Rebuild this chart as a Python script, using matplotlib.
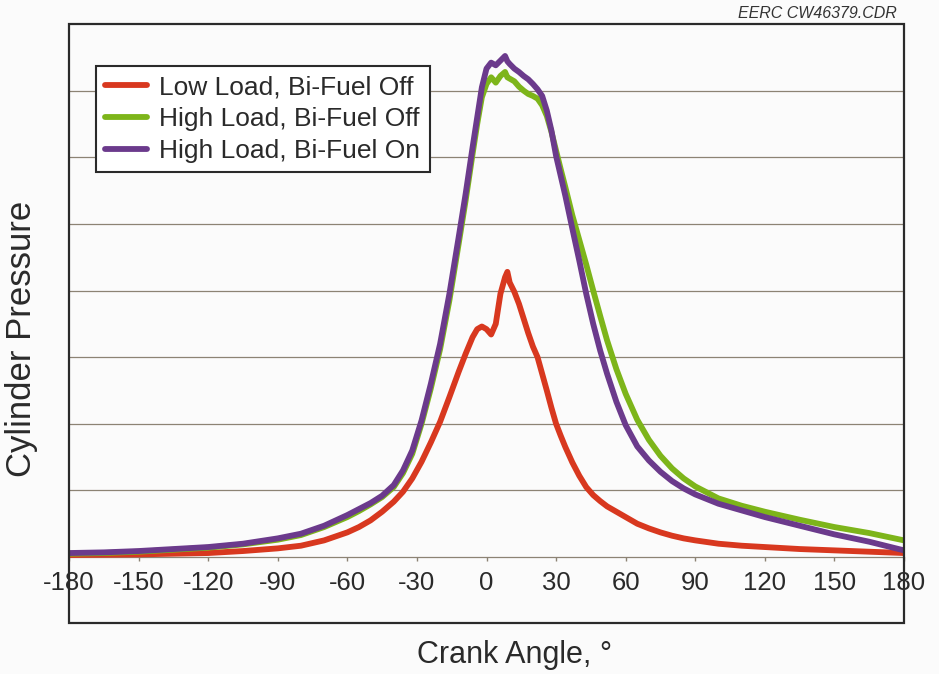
import numpy as np
import matplotlib
matplotlib.use("Agg")
import matplotlib.pyplot as plt
from matplotlib.patches import Rectangle

plt.rcParams['font.family'] = ['Liberation Sans', 'DejaVu Sans']

# crank angle, degrees
angle = [-180, -165, -150, -135, -120, -105, -90, -80, -70, -60, -55, -50, -45, -40,
         -36, -32, -28, -24, -20, -16, -12, -9, -6, -4, -2, 0, 2, 4, 6, 8, 9, 10, 12,
         14, 16, 18, 20, 22, 24, 26, 28, 30, 32, 34, 37, 40, 43, 46, 49, 52, 56, 60,
         65, 70, 75, 80, 85, 90, 100, 110, 120, 135, 150, 165, 180]

# cylinder pressure (grid units)
low_off = [0.03, 0.035, 0.04, 0.05, 0.06, 0.09, 0.13, 0.17, 0.25, 0.37, 0.45, 0.55, 0.68, 0.83,
           0.98, 1.18, 1.43, 1.72, 2.03, 2.4, 2.78, 3.05, 3.3, 3.42, 3.46, 3.42, 3.34, 3.5, 3.95,
           4.2, 4.28, 4.12, 3.98, 3.8, 3.58, 3.36, 3.16, 3.0, 2.75, 2.5, 2.24, 2.0, 1.82, 1.65,
           1.42, 1.22, 1.05, 0.93, 0.84, 0.76, 0.68, 0.6, 0.5, 0.43, 0.37, 0.32, 0.28, 0.25,
           0.2, 0.17, 0.15, 0.12, 0.1, 0.08, 0.06]

high_off = [0.05, 0.06, 0.08, 0.11, 0.14, 0.19, 0.26, 0.33, 0.45, 0.6, 0.69, 0.79, 0.9, 1.05,
            1.26, 1.55, 2.0, 2.53, 3.12, 3.85, 4.7, 5.35, 6.05, 6.5, 6.9, 7.1, 7.2, 7.12, 7.22,
            7.28, 7.2, 7.18, 7.14, 7.06, 7.0, 6.95, 6.92, 6.88, 6.78, 6.62, 6.38, 6.1, 5.82, 5.55,
            5.13, 4.76, 4.39, 4.0, 3.62, 3.25, 2.82, 2.45, 2.06, 1.76, 1.52, 1.33, 1.18, 1.06,
            0.88, 0.77, 0.68, 0.56, 0.45, 0.36, 0.25]

high_on = [0.06, 0.07, 0.09, 0.12, 0.15, 0.2, 0.28, 0.35, 0.47, 0.63, 0.72, 0.81, 0.92, 1.08,
           1.3, 1.6, 2.05, 2.6, 3.2, 3.95, 4.8, 5.45, 6.15, 6.6, 7.05, 7.33, 7.42, 7.38, 7.45,
           7.52, 7.44, 7.4, 7.33, 7.28, 7.22, 7.17, 7.1, 7.02, 6.92, 6.7, 6.4, 6.02, 5.72, 5.42,
           4.93, 4.45, 3.95, 3.5, 3.1, 2.75, 2.33, 1.98, 1.66, 1.45, 1.28, 1.14, 1.03, 0.94,
           0.8, 0.7, 0.6, 0.47, 0.34, 0.23, 0.1]

labels = ["Low Load, Bi-Fuel Off", "High Load, Bi-Fuel Off", "High Load, Bi-Fuel On"]
colors = ["#d8381f", "#7db51a", "#6b3a8c"]
xticks = np.arange(-180, 181, 30)

dark = "#2a2a2a"
gridc = "#8c8374"

fig = plt.figure(figsize=(9.39, 6.74), dpi=100, facecolor="#fbfbfb")
ax = fig.add_axes([69/939, 1 - 623/674, (904 - 69)/939, (623 - 24)/674])
ax.set_facecolor("#fbfbfb")

for s in ["left", "right", "top"]:
    ax.spines[s].set_visible(False)
ax.spines["bottom"].set_position(("data", 0))
ax.spines["bottom"].set_color(gridc)
ax.spines["bottom"].set_linewidth(0.9)

for y, c, lab in zip([low_off, high_off, high_on], colors, labels):
    ax.plot(angle, y, color=c, lw=4.2, label=lab, solid_capstyle="round",
            solid_joinstyle="round", zorder=3)

ax.set_xlim(-180, 180)
ax.set_ylim(-0.99, 8)

ax.set_xticks(xticks)
ax.set_xticklabels([str(t) for t in xticks])
ax.set_yticks(range(1, 8))
ax.set_yticklabels([])
ax.tick_params(axis="y", length=0)
ax.tick_params(axis="x", direction="out", length=3, width=1, color=gridc, pad=7,
               labelsize=18.5, labelcolor=dark)
ax.grid(axis="y", color=gridc, lw=0.9)
ax.grid(axis="x", visible=False)

# outer frame
ax.add_patch(Rectangle((0, 0), 1, 1, transform=ax.transAxes, fill=False,
                       ec=dark, lw=1.6, clip_on=False, zorder=5))

leg = ax.legend(loc="upper left", bbox_to_anchor=(0.0323, 0.93), borderaxespad=0,
                fontsize=19, frameon=True, fancybox=False, framealpha=1,
                edgecolor=dark, handlelength=1.6, handletextpad=0.45,
                labelspacing=0.3, borderpad=0.35)
leg.get_frame().set_linewidth(1.5)
for t in leg.get_texts():
    t.set_color(dark)

fig.text(22/939, 1 - 339/674, "Cylinder Pressure", rotation=90, ha="center",
         va="center", fontsize=25, color=dark)
fig.text(515/939, 1 - 655/674, "Crank Angle, \u00b0", ha="center", va="center",
         fontsize=22, color=dark)
fig.text(897/939, 1 - 14/674, "EERC CW46379.CDR", ha="right", va="center",
         fontsize=11.5, style="italic", color="#333333")

fig.savefig("out.png", dpi=100, facecolor=fig.get_facecolor())
